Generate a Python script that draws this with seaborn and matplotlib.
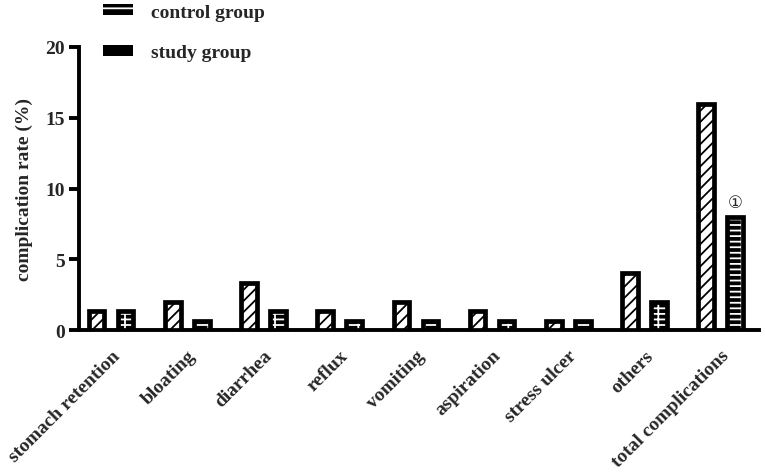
import matplotlib
matplotlib.use("Agg")
import matplotlib.pyplot as plt
from matplotlib.patches import Patch, Rectangle
import seaborn as sns
import pandas as pd

categories = ["stomach retention", "bloating", "diarrhea", "reflux", "vomiting",
              "aspiration", "stress ulcer", "others", "total complications"]
control_group = [1.33, 2.0, 3.33, 1.33, 2.0, 1.33, 0.67, 4.0, 16.0]
study_group = [1.33, 0.67, 1.33, 0.67, 0.67, 0.67, 0.67, 2.0, 8.0]
group_names = ["control group", "study group"]
y_ticks = [0, 5, 10, 15, 20]
marker_text = "\u2460"

df = pd.DataFrame({
    "category": categories * 2,
    "rate": control_group + study_group,
    "group": [group_names[0]] * len(categories) + [group_names[1]] * len(categories),
})

sns.set_style("ticks")
plt.rcParams["font.family"] = ["Liberation Serif", "DejaVu Serif"]
plt.rcParams["font.weight"] = "bold"
plt.rcParams["hatch.linewidth"] = 1.3

fig = plt.figure(figsize=(7.65, 4.77), dpi=100)
ax = fig.add_axes([0.1033, 0.306, 0.8887, 0.5934])

sns.barplot(data=df, x="category", y="rate", hue="group", hue_order=group_names,
            order=categories, width=0.76, gap=0.46, legend=False, ax=ax,
            palette=["white", "black"], saturation=1)

edge_lw = 3.4
# control group: white bars with black diagonal hatch
for bar in ax.containers[0]:
    bar.set_facecolor("white")
    bar.set_edgecolor("black")
    bar.set_linewidth(edge_lw)
    bar.set_hatch("///")
    bar.set_zorder(3)
# study group: black bars with white pattern, black frame on top
for bar in ax.containers[1]:
    bar.set_facecolor("black")
    bar.set_edgecolor("white")
    bar.set_linewidth(0)
    bar.set_hatch("---|")
    bar.set_zorder(3)
    frame = Rectangle(bar.get_xy(), bar.get_width(), bar.get_height(),
                      fill=False, edgecolor="black", linewidth=edge_lw, zorder=4)
    ax.add_patch(frame)

# marker above the total study bar
last = ax.containers[1][-1]
ax.text(last.get_x() + last.get_width() / 2, last.get_height() + 1.0, marker_text,
        ha="center", va="center", fontsize=12, fontweight="normal",
        family=["DejaVu Serif", "DejaVu Sans"])

ax.set_xlim(-0.42, 8.5)
ax.set_ylim(0, 20)
ax.set_yticks(y_ticks)
ax.set_yticklabels([str(t) for t in y_ticks], fontsize=14, fontweight="bold")
ax.set_xticks(range(len(categories)))
ax.set_xticklabels(categories, rotation=45, ha="right", va="top",
                   rotation_mode="anchor", fontsize=14, fontweight="bold")
ax.tick_params(axis="x", length=0, pad=12)
ax.tick_params(axis="y", length=7, width=2.8, pad=3, color="black")
ax.set_xlabel("")
ax.set_ylabel("complication rate (%)", fontsize=14, fontweight="bold", labelpad=9)

sns.despine(ax=ax)
for s in ["left", "bottom"]:
    ax.spines[s].set_linewidth(2.8)
    ax.spines[s].set_color("black")

handles = [Patch(facecolor="black", edgecolor="white", linewidth=0, hatch="-"),
           Patch(facecolor="black", edgecolor="white", linewidth=0, hatch="-")]
fig.legend(handles, group_names, loc="upper left", bbox_to_anchor=(0.135, 0.99),
           frameon=False, labelspacing=1.2, handlelength=1.55,
           handleheight=0.5, handletextpad=0.9, borderpad=0, borderaxespad=0,
           prop={"weight": "bold", "size": 14})

fig.savefig("out.png", dpi=100)
